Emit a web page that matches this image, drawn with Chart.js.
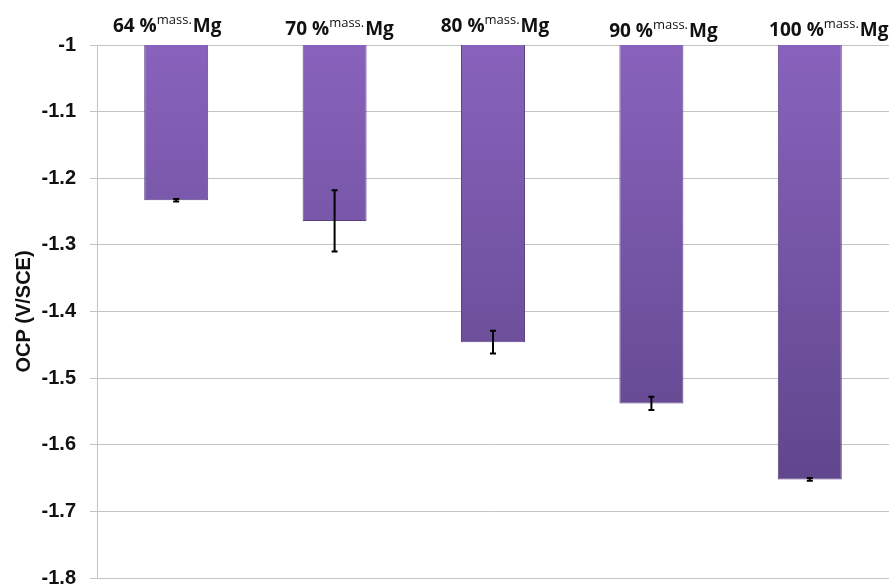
<!DOCTYPE html>
<html>
<head>
<meta charset="utf-8">
<script src="https://cdn.jsdelivr.net/npm/chart.js@4.4.1/dist/chart.umd.min.js"></script>
<style>
  html, body { margin: 0; padding: 0; background: #fff; }
  canvas { display: block; }
</style>
</head>
<body>
<canvas id="ocpChart" width="896" height="588"></canvas>
<script>
// data
const massPct = ['64', '70', '80', '90', '100'];
const ocpValues = [-1.233, -1.264, -1.446, -1.538, -1.652];
const ocpErrors = [0.002, 0.046, 0.017, 0.010, 0.002];
const yTicks = [-1, -1.1, -1.2, -1.3, -1.4, -1.5, -1.6, -1.7, -1.8];

let ctx = document.getElementById('ocpChart').getContext('2d');

// purple gradient like the office 3d-ish bars
function barFill(context) {
  const area = context.chart.chartArea;
  if (!area) return '#7a5aa8';
  const yScale = context.chart.scales.y;
  const top = yScale.getPixelForValue(-1);
  const g = context.chart.ctx.createLinearGradient(0, top, 0, yScale.getPixelForValue(-1.66));
  g.addColorStop(0, '#8862bc');
  g.addColorStop(1, '#60468c');
  return g;
}

// error bars drawn on top of each bar end
const errorBarPlugin = {
  id: 'errorBars',
  afterDatasetsDraw(chart) {
    const c = chart.ctx;
    const meta = chart.getDatasetMeta(0);
    const yScale = chart.scales.y;
    c.save();
    c.strokeStyle = '#000';
    c.lineWidth = 2;
    meta.data.forEach((bar, i) => {
      const x = bar.x;
      const yHi = yScale.getPixelForValue(ocpValues[i] + ocpErrors[i]);
      const yLo = yScale.getPixelForValue(ocpValues[i] - ocpErrors[i]);
      c.beginPath();
      c.moveTo(x, yHi); c.lineTo(x, yLo);
      c.moveTo(x - 3, yHi); c.lineTo(x + 3, yHi);
      c.moveTo(x - 3, yLo); c.lineTo(x + 3, yLo);
      c.stroke();
    });
    c.restore();
  }
};

// category labels above the plot, with the "mass." superscript
const topLabelPlugin = {
  id: 'topLabels',
  afterDraw(chart, args, opts) {
    const c = chart.ctx;
    const xScale = chart.scales.x;
    c.save();
    c.fillStyle = '#111';
    c.textBaseline = 'alphabetic';
    massPct.forEach((p, i) => {
      const main = p + ' %';
      const sup = 'mass.';
      const end = 'Mg';
      c.font = 'bold 19px "Open Sans"';
      const w1 = c.measureText(main).width;
      const w3 = c.measureText(end).width;
      c.font = '13px "Open Sans"';
      const w2 = c.measureText(sup).width;
      const total = w1 + w2 + w3 + 1;
      let x = xScale.getPixelForValue(i) + opts.shift[i] - total / 2;
      const y = opts.base[i];
      c.textAlign = 'left';
      c.font = 'bold 19px "Open Sans"';
      c.fillText(main, x, y);
      x += w1;
      c.font = '13px "Open Sans"';
      c.fillText(sup, x, y - 8);
      x += w2 + 1;
      c.font = 'bold 19px "Open Sans"';
      c.fillText(end, x, y);
    });
    c.restore();
  }
};

let ocpChart = new Chart(ctx, {
  type: 'bar',
  data: {
    labels: massPct.map(p => p + ' %mass.Mg'),
    datasets: [{
      data: ocpValues,
      backgroundColor: barFill,
      borderColor: '#5a4283',
      borderWidth: 1,
      borderSkipped: false,
      categoryPercentage: 1,
      barPercentage: 0.404
    }]
  },
  options: {
    responsive: false,
    animation: false,
    layout: { padding: { top: 45, right: 7, bottom: 10, left: 0 } },
    plugins: {
      legend: { display: false },
      tooltip: { enabled: false },
      topLabels: {
        shift: [-9, 5, 2, 12, 19],
        base: [32, 35, 32, 37, 36]
      }
    },
    scales: {
      x: {
        display: false
      },
      y: {
        min: -1.8,
        max: -1,
        afterFit(scale) {
          scale.width = 97;
          scale.paddingTop = 0;
          scale.paddingBottom = 0;
        },
        afterBuildTicks(scale) { scale.ticks = yTicks.map(v => ({ value: v })); },
        grid: {
          color: '#c4c4c4',
          lineWidth: 1,
          tickLength: 7,
          drawTicks: true
        },
        border: { color: '#c4c4c4', width: 1 },
        ticks: {
          padding: 14,
          color: '#111',
          font: { family: '"Liberation Sans"', size: 20, weight: 'bold' },
          callback: v => String(Number(v.toFixed(1)))
        },
        title: {
          display: true,
          text: 'OCP (V/SCE)',
          color: '#111',
          font: { family: '"Liberation Sans"', size: 20, weight: 'bold' },
          padding: { top: 12, bottom: 0 }
        }
      }
    }
  },
  plugins: [errorBarPlugin, topLabelPlugin]
});
</script>
</body>
</html>
